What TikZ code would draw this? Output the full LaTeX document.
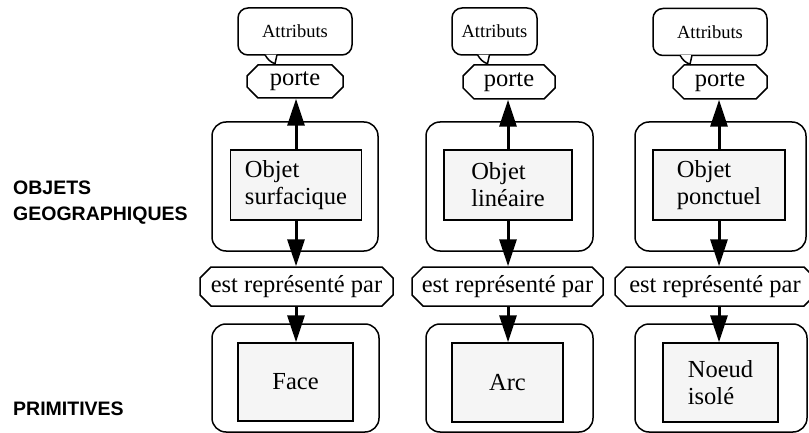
\documentclass[tikz,border=0pt]{standalone}
\usepackage{fontspec}
\setmainfont{Liberation Serif}
\newfontfamily\labelfont{Liberation Sans}
\usetikzlibrary{shapes.misc,arrows.meta}
\begin{document}
\begin{tikzpicture}[x=1pt,y=-1pt,
  every node/.style={inner sep=0pt},
  outerbox/.style={draw, line width=1.5pt, rounded corners=14pt, rectangle},
  objbox/.style={draw, line width=1.5pt, fill=black!4, rectangle, align=left,
    font=\fontsize{24.5}{27}\selectfont},
  relbox/.style={draw, line width=1.5pt, chamfered rectangle, chamfered rectangle xsep=8pt,
    font=\fontsize{24.5}{27}\selectfont},
  attrbox/.style={draw, line width=1.5pt, rectangle, rounded corners=10pt,
    minimum height=47pt, font=\fontsize{18.5}{20}\selectfont},
  tail/.style={draw, line width=1.5pt, fill=white},
  arr/.style={line width=3pt, -{Triangle[width=17pt,length=27pt]}},
  sidelabel/.style={align=left, anchor=base west,
    font=\labelfont\bfseries\fontsize{19.5}{25}\selectfont}
]
\useasboundingbox (0,0) rectangle (809,433);
\clip (0,0) rectangle (809,433);

% side labels
\node[sidelabel] (lgeo) at (13,220) {OBJETS\\GEOGRAPHIQUES};
\node[sidelabel] (lprim) at (13,415) {PRIMITIVES};

% ---- column 1 : surfaces
\node[outerbox, minimum width=166pt, minimum height=129pt] (o1) at (295,186.5) {};
\node[objbox, minimum width=131pt, minimum height=70pt] (i1) at (296,185) {Objet\\surfacique};
\node[relbox, minimum width=96pt, minimum height=33pt] (p1) at (295,81.5) {porte};
\node[relbox, minimum width=193pt, minimum height=39pt] (h1) at (296.5,286.5) {est représenté par};
\node[outerbox, minimum width=167pt, minimum height=108pt] (q1) at (295.5,378) {};
\node[objbox, minimum width=115pt, minimum height=78pt] (j1) at (295.5,382) {Face};
\node[attrbox, minimum width=114pt] (a1) at (295,31.5) {Attributs};

% ---- column 2 : lines
\node[outerbox, minimum width=167pt, minimum height=129pt] (o2) at (509.5,186.5) {};
\node[objbox, minimum width=128pt, minimum height=70pt] (i2) at (508,185) {Objet\\linéaire};
\node[relbox, minimum width=92pt, minimum height=34pt] (p2) at (509,82) {porte};
\node[relbox, minimum width=191pt, minimum height=39pt] (h2) at (507.5,286.5) {est représenté par};
\node[outerbox, minimum width=167pt, minimum height=108pt] (q2) at (509.5,378) {};
\node[objbox, minimum width=111pt, minimum height=79pt] (j2) at (507.5,382.5) {Arc};
\node[attrbox, minimum width=85pt] (a2) at (494.5,31.5) {Attributs};

% ---- column 3 : points
\node[outerbox, minimum width=171pt, minimum height=129pt] (o3) at (720.5,186.5) {};
\node[objbox, minimum width=132pt, minimum height=70pt] (i3) at (719,185) {Objet\\ponctuel};
\node[relbox, minimum width=94pt, minimum height=34pt] (p3) at (720,82) {porte};
\node[relbox, minimum width=200pt, minimum height=39pt] (h3) at (715,286.5) {est représenté par};
\node[outerbox, minimum width=172pt, minimum height=108pt] (q3) at (721,378) {};
\node[objbox, minimum width=115pt, minimum height=79pt] (j3) at (720.5,382.5) {Noeud\\isolé};
\node[attrbox, minimum width=114pt] (a3) at (710,32) {Attributs};

% ---- speech-bubble tails of the attribute boxes, hooking onto "porte"
\foreach \c/\dx in {1/-30,2/-17,3/-30}{
  \coordinate (t\c) at ([xshift=\dx pt+10pt, yshift=-8pt]a\c.south);
  \path[tail] ([xshift=\dx pt, yshift=1pt]a\c.south)
     .. controls +(3,5) and +(-5,-2) .. (t\c)
     .. controls +(0,-3) and +(0,3) .. ([xshift=\dx pt+12pt, yshift=1pt]a\c.south);
}

% ---- connectors
\foreach \c in {1,2,3}{
  \draw[arr] (i\c.north) -- (i\c.north |- p\c.south);
  \draw[arr] (i\c.south) -- (i\c.south |- h\c.north);
  \draw[arr] (i\c |- h\c.south) -- (i\c |- j\c.north);
}
\end{tikzpicture}
\end{document}
